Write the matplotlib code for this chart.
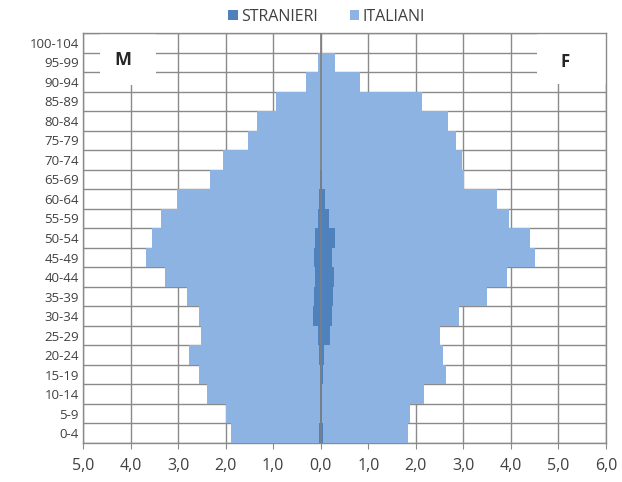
import matplotlib
matplotlib.use("Agg")
import matplotlib.pyplot as plt
from matplotlib.patches import Rectangle
import numpy as np

plt.rcParams['font.family'] = ['Open Sans', 'DejaVu Sans']

# Age classes from bottom (0-4) to top (100-104)
age_classes = ["0-4", "5-9", "10-14", "15-19", "20-24", "25-29", "30-34", "35-39",
               "40-44", "45-49", "50-54", "55-59", "60-64", "65-69", "70-74", "75-79",
               "80-84", "85-89", "90-94", "95-99", "100-104"]

# Percent of population (absolute values), males
m_stranieri = [0.03, 0.02, 0.02, 0.02, 0.03, 0.06, 0.17, 0.15, 0.13, 0.15, 0.12,
               0.05, 0.03, 0.01, 0.0, 0.0, 0.0, 0.0, 0.0, 0.0, 0.0]
m_italiani = [1.86, 1.97, 2.37, 2.54, 2.74, 2.46, 2.39, 2.67, 3.15, 3.53, 3.42,
              3.30, 3.00, 2.32, 2.06, 1.52, 1.35, 0.94, 0.30, 0.05, 0.0]
# females
f_stranieri = [0.04, 0.03, 0.03, 0.04, 0.07, 0.20, 0.23, 0.25, 0.28, 0.23, 0.30,
               0.17, 0.08, 0.03, 0.01, 0.0, 0.0, 0.0, 0.0, 0.0, 0.0]
f_italiani = [1.79, 1.85, 2.14, 2.59, 2.51, 2.31, 2.67, 3.24, 3.64, 4.28, 4.11,
              3.78, 3.62, 2.99, 2.96, 2.85, 2.68, 2.13, 0.83, 0.30, 0.0]

x_ticks = [-5, -4, -3, -2, -1, 0, 1, 2, 3, 4, 5, 6]
x_labels = ["5,0", "4,0", "3,0", "2,0", "1,0", "0,0", "1,0", "2,0", "3,0", "4,0", "5,0", "6,0"]

c_str = "#4f81bd"
c_ita = "#8db3e2"
grid_c = "#8a8a8a"
txt_c = "#404040"

fig = plt.figure(figsize=(6.22, 4.82), dpi=100)
ax = fig.add_axes([83/622, 1 - 443/482, 523/622, 410/482])

y = np.arange(len(age_classes))
ms = np.array(m_stranieri)
mi = np.array(m_italiani)
fs = np.array(f_stranieri)
fi = np.array(f_italiani)

ax.barh(y, -ms, height=1.0, color=c_str, zorder=3, label="STRANIERI")
ax.barh(y, -mi, left=-ms, height=1.0, color=c_ita, zorder=3, label="ITALIANI")
ax.barh(y, fs, height=1.0, color=c_str, zorder=3)
ax.barh(y, fi, left=fs, height=1.0, color=c_ita, zorder=3)

ax.set_xlim(-5, 6)
ax.set_ylim(-0.5, len(age_classes) - 0.5)

# grid
for xv in x_ticks:
    ax.axvline(xv, color=grid_c, lw=1.0, zorder=1)
for yb in np.arange(-0.5, len(age_classes), 1.0):
    ax.axhline(yb, color=grid_c, lw=1.0, zorder=1)

# vertical axis line at 0 over bars
ax.axvline(0, color="#7f7f7f", lw=1.2, zorder=4)

ax.set_xticks(x_ticks)
ax.set_xticklabels(x_labels, fontsize=11.5, color=txt_c)
ax.set_yticks(y)
ax.set_yticklabels(age_classes, fontsize=9.5, color=txt_c)
ax.tick_params(axis='y', length=0, pad=3)
ax.tick_params(axis='x', length=4, color=grid_c, pad=7)
for s in ax.spines.values():
    s.set_color(grid_c)
    s.set_linewidth(1.0)

# M / F label boxes
ax.add_patch(Rectangle((0.0325, 0.873), 0.107, 0.127, transform=ax.transAxes,
                       facecolor="white", edgecolor="none", zorder=2))
ax.add_patch(Rectangle((0.868, 0.875), 0.132, 0.125, transform=ax.transAxes,
                       facecolor="white", edgecolor="none", zorder=2))
ax.text(0.0765, 0.934, "M", transform=ax.transAxes, ha="center", va="center",
        fontsize=13, fontweight="bold", color="#262626", zorder=5)
ax.text(0.9216, 0.930, "F", transform=ax.transAxes, ha="center", va="center",
        fontsize=12, fontweight="bold", color="#262626", zorder=5)

leg = fig.legend(loc="center", bbox_to_anchor=(0.525, 1 - 17/482), ncol=2, frameon=False,
                 fontsize=11.5, handlelength=0.6, handleheight=0.6, handletextpad=0.2,
                 columnspacing=2.0, labelcolor=txt_c)

fig.savefig("out.png", dpi=100)
